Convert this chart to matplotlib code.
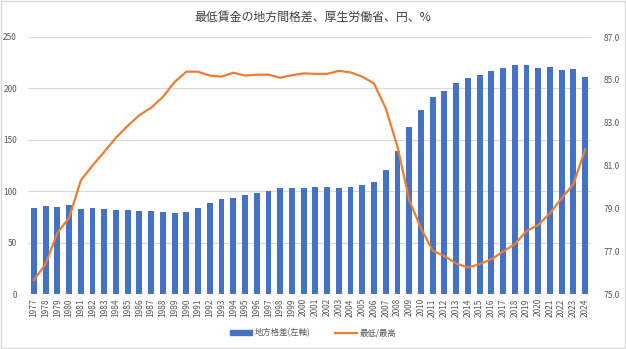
import numpy as np
import matplotlib
matplotlib.use("Agg")
import matplotlib.pyplot as plt
from matplotlib.lines import Line2D
from matplotlib.patches import Patch

plt.rcParams['font.family'] = ['Noto Sans CJK JP', 'DejaVu Sans']

# ============================================================
# DATOS
# ============================================================
years = list(range(1977, 2025))

# 地方格差 (円, left axis)
gap_yen = [84, 86, 85, 87, 83, 84, 83, 82, 82, 81,
           81, 80, 79, 80, 84, 89, 92, 93, 96, 98,
           100, 103, 103, 103, 104, 104, 103, 104, 106, 109,
           121, 139, 162, 179, 192, 197, 205, 210, 213, 217,
           220, 223, 223, 220, 221, 218, 219, 211]

# 最低/最高 (%, right axis)
ratio_pct = [75.65, 76.4, 77.85, 78.55, 80.3, 81.0, 81.64, 82.3, 82.85, 83.35,
             83.7, 84.2, 84.9, 85.38, 85.38, 85.2, 85.15, 85.33, 85.2, 85.24,
             85.24, 85.1, 85.22, 85.3, 85.28, 85.28, 85.42, 85.35, 85.15, 84.83,
             83.67, 81.88, 79.4, 78.07, 77.02, 76.77, 76.43, 76.23, 76.4, 76.62,
             76.98, 77.33, 77.94, 78.22, 78.77, 79.47, 80.13, 81.75]

title = "最低賃金の地方間格差、厚生労働省、円、%"
label_bar = "地方格差(左軸)"
label_line = "最低/最高"

BLUE = "#4472C4"
ORANGE = "#ED7D31"
GRID = "#D9D9D9"
TXT = "#595959"

# ============================================================
# GRÁFICO
# ============================================================
fig = plt.figure(figsize=(6.26, 3.49), dpi=100)
ax = fig.add_axes([28/626, 1 - 294/349, (591 - 28)/626, (294 - 37)/349])
ax2 = ax.twinx()

x = np.arange(len(years))
ax.bar(x, gap_yen, width=0.5, color=BLUE, zorder=2)
ax2.plot(x, ratio_pct, color=ORANGE, linewidth=1.6, zorder=3)

ax.set_xlim(-0.5, len(years) - 0.5)
ax.set_ylim(0, 250)
ax.set_yticks(np.arange(0, 251, 50))
ax2.set_ylim(75, 87)
ax2.set_yticks(np.arange(75, 87.1, 2))
ax2.set_yticklabels([f"{v:.1f}" for v in np.arange(75, 87.1, 2)])

ax.set_xticks(x)
ax.set_xticklabels([str(y) for y in years], rotation=90)

ax.grid(axis="y", color=GRID, linewidth=0.8, zorder=0)
ax.set_axisbelow(True)
for a in (ax, ax2):
    for s in a.spines.values():
        s.set_visible(False)
    a.tick_params(length=0, colors=TXT, labelsize=6)
ax.tick_params(axis="y", pad=8)
ax2.tick_params(axis="y", pad=9)
ax.tick_params(axis="x", pad=3)

fig.text(0.5, 1 - 17/349, title, ha="center", va="center",
         fontsize=8.6, color="#404040")

handles = [Patch(color=BLUE), Line2D([0], [0], color=ORANGE, linewidth=1.6)]
fig.legend(handles, [label_bar, label_line], loc="center",
           bbox_to_anchor=(0.5, 1 - 333/349), ncol=2, frameon=False,
           fontsize=6, labelcolor=TXT, handlelength=2.6, handleheight=0.5,
           columnspacing=3, handletextpad=0.3)

# borde del gráfico
fig.patches.append(plt.Rectangle((0.001, 0.002), 0.997, 0.995, transform=fig.transFigure,
                                 fill=False, edgecolor=GRID, linewidth=1))

fig.savefig("out.png", dpi=100)
